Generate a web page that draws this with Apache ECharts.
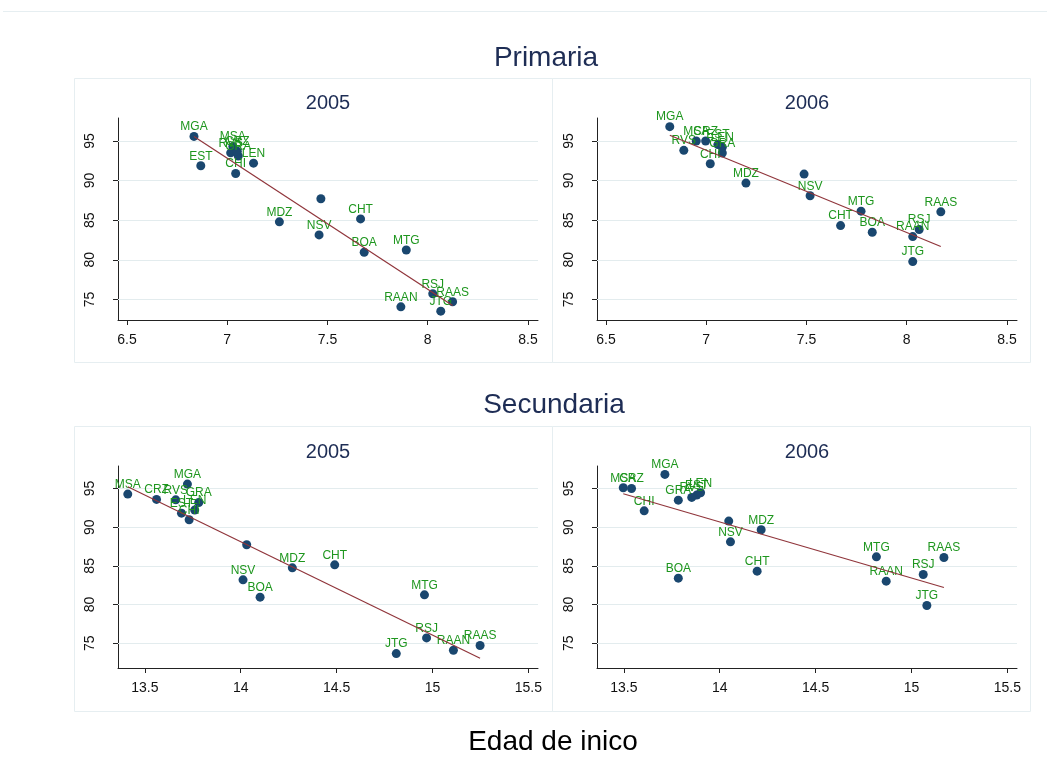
<!DOCTYPE html>
<html>
<head>
<meta charset="utf-8">
<script src="https://cdn.jsdelivr.net/npm/echarts@6/dist/echarts.min.js"></script>
<style>
html,body{margin:0;padding:0;background:#fff;}
#chart{width:1047px;height:775px;}
</style>
</head>
<body>
<div id="chart"></div>
<script>
// Department labels (last one is an unlabelled point)
const depts = ['MGA','EST','MSA','RVS','GRA','CRZ','CHI','LEN','MDZ','NSV','CHT','BOA','MTG','RAAN','RSJ','RAAS','JTG',''];

// Primaria 2005
const prim05X = [6.834,6.868,7.028,7.017,7.055,7.050,7.042,7.131,7.260,7.458,7.665,7.683,7.893,7.866,8.025,8.124,8.065,7.467];
const prim05Y = [95.58,91.87,94.30,93.50,93.10,93.70,90.90,92.20,84.79,83.14,85.16,80.95,81.24,74.06,75.71,74.70,73.52,87.70];
// Primaria 2006
const prim06X = [6.818,7.058,6.950,6.888,7.080,6.997,7.020,7.080,7.198,7.518,7.670,7.828,7.772,8.030,8.062,8.170,8.030,7.488];
const prim06Y = [96.81,94.54,95.00,93.82,93.48,95.00,92.13,94.20,89.68,88.08,84.32,83.48,86.14,82.93,83.82,86.05,79.77,90.82];
// Secundaria 2005
const sec05X = [13.722,13.691,13.411,13.661,13.781,13.561,13.731,13.760,14.269,14.012,14.490,14.101,14.958,15.109,14.969,15.248,14.811,14.031];
const sec05Y = [95.56,91.81,94.27,93.53,93.19,93.58,90.95,92.20,84.74,83.19,85.13,80.95,81.25,74.09,75.69,74.70,73.66,87.72];
// Secundaria 2006
const sec06X = [13.714,13.880,13.497,13.854,13.784,13.540,13.606,13.900,14.216,14.056,14.195,13.784,14.817,14.868,15.061,15.169,15.080,14.047];
const sec06Y = [96.81,94.14,95.09,93.84,93.49,95.00,92.11,94.44,89.66,88.10,84.31,83.41,86.16,83.02,83.88,86.08,79.87,90.78];

// Fitted lines (endpoints)
const prim05FitX = [6.834, 8.124], prim05FitY = [95.58, 74.24];
const prim06FitX = [6.818, 8.170], prim06FitY = [95.72, 81.67];
const sec05FitX = [13.411, 15.248], sec05FitY = [95.22, 73.06];
const sec06FitX = [13.497, 15.169], sec06FitY = [94.31, 82.20];

// Tick labels
const yTicks = [75, 80, 85, 90, 95];
const primXTicks = [6.5, 7, 7.5, 8, 8.5];
const secXTicks = [13.5, 14, 14.5, 15, 15.5];

const panelTitles = ['2005', '2006', '2005', '2006'];
const groupTitles = ['Primaria', 'Secundaria'];
const xTitle = 'Edad de inico';

const FONT = '"Liberation Sans", Arial, sans-serif';
const NAVY = '#1a476f';
const GREEN = '#1e961e';
const FITC = '#90353b';
const GRIDC = '#e3ecee';
const BORDERC = '#e6eef1';
const TITLEC = '#1e2d55';

const panels = [
  {xs: prim05X, ys: prim05Y, fx: prim05FitX, fy: prim05FitY, xt: primXTicks, xmin: 6.455, xmax: 8.55, ymin: 72.4, ymax: 97.9,
   grid: {left: 118, top: 118, width: 420, height: 202}},
  {xs: prim06X, ys: prim06Y, fx: prim06FitX, fy: prim06FitY, xt: primXTicks, xmin: 6.455, xmax: 8.55, ymin: 72.4, ymax: 97.9,
   grid: {left: 597, top: 118, width: 420, height: 202}},
  {xs: sec05X, ys: sec05Y, fx: sec05FitX, fy: sec05FitY, xt: secXTicks, xmin: 13.36, xmax: 15.55, ymin: 71.8, ymax: 97.9,
   grid: {left: 118, top: 466, width: 420, height: 202}},
  {xs: sec06X, ys: sec06Y, fx: sec06FitX, fy: sec06FitY, xt: secXTicks, xmin: 13.36, xmax: 15.55, ymin: 71.8, ymax: 97.9,
   grid: {left: 597, top: 466, width: 420, height: 202}}
];

const grids = [], xAxes = [], yAxes = [], series = [];
panels.forEach((p, i) => {
  grids.push(Object.assign({containLabel: false}, p.grid));
  xAxes.push({
    type: 'value', gridIndex: i, min: p.xmin, max: p.xmax,
    axisLine: {show: true, onZero: false, lineStyle: {color: '#222', width: 1}},
    axisTick: {show: true, length: 5, customValues: p.xt, lineStyle: {color: '#222'}},
    axisLabel: {customValues: p.xt, fontSize: 14, color: '#111', fontFamily: FONT, margin: 13},
    splitLine: {show: false}
  });
  yAxes.push({
    type: 'value', gridIndex: i, min: p.ymin, max: p.ymax,
    axisLine: {show: true, onZero: false, lineStyle: {color: '#222', width: 1}},
    axisTick: {show: true, length: 5, customValues: yTicks, lineStyle: {color: '#222'}},
    axisLabel: {customValues: yTicks, fontSize: 14, color: '#111', fontFamily: FONT, rotate: 90, margin: 21},
    splitLine: {show: false}
  });
  series.push({
    type: 'scatter', xAxisIndex: i, yAxisIndex: i,
    data: p.xs.map((x, k) => ({value: [x, p.ys[k]], name: depts[k]})),
    symbol: 'circle', symbolSize: 9,
    itemStyle: {color: NAVY, opacity: 1},
    label: {show: true, position: 'top', distance: -1, formatter: '{b}', color: GREEN, opacity: 1, fontSize: 12, fontFamily: FONT},
    markLine: {
      silent: true, symbol: ['none', 'none'], animation: false, z: 1,
      label: {show: false},
      lineStyle: {color: GRIDC, width: 1, type: 'solid', opacity: 1},
      data: yTicks.map(v => ({yAxis: v}))
    },
    z: 6, animation: false
  });
  series.push({
    type: 'line', xAxisIndex: i, yAxisIndex: i,
    data: p.fx.map((x, k) => [x, p.fy[k]]),
    symbol: 'none', lineStyle: {color: FITC, width: 1.2},
    z: 10, animation: false, silent: true
  });
});

const graphics = [
  {type: 'line', shape: {x1: 3, y1: 11.5, x2: 1047, y2: 11.5}, style: {stroke: BORDERC, lineWidth: 1}, silent: true},
  {type: 'rect', shape: {x: 74.5, y: 78.5, width: 478, height: 284}, style: {fill: 'none', stroke: BORDERC, lineWidth: 1}, silent: true, z: -1},
  {type: 'rect', shape: {x: 552.5, y: 78.5, width: 478, height: 284}, style: {fill: 'none', stroke: BORDERC, lineWidth: 1}, silent: true, z: -1},
  {type: 'rect', shape: {x: 74.5, y: 426.5, width: 478, height: 285}, style: {fill: 'none', stroke: BORDERC, lineWidth: 1}, silent: true, z: -1},
  {type: 'rect', shape: {x: 552.5, y: 426.5, width: 478, height: 285}, style: {fill: 'none', stroke: BORDERC, lineWidth: 1}, silent: true, z: -1},
  {type: 'text', x: 546, y: 58, style: {text: groupTitles[0], font: '28px ' + FONT, fill: TITLEC, textAlign: 'center', textVerticalAlign: 'middle'}},
  {type: 'text', x: 554, y: 405, style: {text: groupTitles[1], font: '28px ' + FONT, fill: TITLEC, textAlign: 'center', textVerticalAlign: 'middle'}},
  {type: 'text', x: 553, y: 742, style: {text: xTitle, font: '28px ' + FONT, fill: '#000', textAlign: 'center', textVerticalAlign: 'middle'}}
];
panels.forEach((p, i) => {
  graphics.push({type: 'text', x: p.grid.left + p.grid.width / 2, y: i < 2 ? 103 : 452,
    style: {text: panelTitles[i], font: '20px ' + FONT, fill: TITLEC, textAlign: 'center', textVerticalAlign: 'middle'}});
});

const chart = echarts.init(document.getElementById('chart'), null, {renderer: 'canvas'});
chart.setOption({
  backgroundColor: '#fff',
  animation: false,
  grid: grids, xAxis: xAxes, yAxis: yAxes, series: series,
  graphic: graphics
});
</script>
</body>
</html>
